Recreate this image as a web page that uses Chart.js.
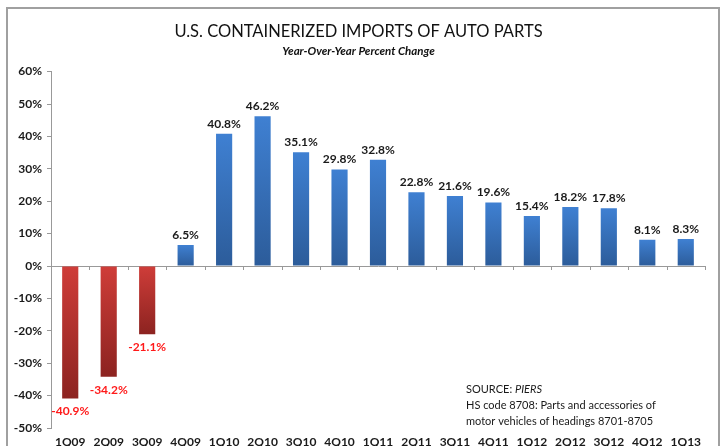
<!DOCTYPE html>
<html>
<head>
<meta charset="utf-8">
<script src="https://cdn.jsdelivr.net/npm/chart.js@4.4.1/dist/chart.umd.min.js"></script>
<style>
    html, body { margin: 0; padding: 0; background: #fff; }
    #wrap { width: 723px; height: 446px; position: relative; }
</style>
</head>
<body>
<div id="wrap"><canvas id="chart" width="723" height="446"></canvas></div>
<script>
'use strict';

const QUARTERS = ['1Q09', '2Q09', '3Q09', '4Q09', '1Q10', '2Q10', '3Q10', '4Q10', '1Q11', '2Q11', '3Q11', '4Q11', '1Q12', '2Q12', '3Q12', '4Q12', '1Q13'];
const YOY_CHANGE = [-40.9, -34.2, -21.1, 6.5, 40.8, 46.2, 35.1, 29.8, 32.8, 22.8, 21.6, 19.6, 15.4, 18.2, 17.8, 8.1, 8.3];
const Y_MIN = -50;
const Y_MAX = 60;
const Y_STEP = 10;
const SOURCE_LINES = ['HS code 8708: Parts and accessories of', 'motor vehicles of headings 8701-8705'];

const FONT = 'Lato, "Open Sans", sans-serif';
const BLUE = ['#3f80d2', '#2c5c9a'];
const RED = ['#cf3d39', '#8c2320'];

// vertical gradient per bar, light at the zero line end for negatives, light at the top for positives
function barFill(context) {
    let chart = context.chart;
    let y = chart.scales.y;
    if (!y || !chart.chartArea) {
        return BLUE[0];
    }
    let value = context.raw;
    let zero = y.getPixelForValue(0);
    let end = y.getPixelForValue(value);
    let colors = value < 0 ? RED : BLUE;
    let top = Math.min(zero, end);
    let bottom = Math.max(zero, end);
    let grad = chart.ctx.createLinearGradient(0, top, 0, bottom);
    grad.addColorStop(0, colors[0]);
    grad.addColorStop(1, colors[1]);
    return grad;
}

// frame, zero line ticks, value labels and source note
const extras = {
    id: 'extras',
    beforeDraw(chart) {
        let ctx = chart.ctx;
        ctx.save();
        ctx.strokeStyle = '#a0a0a0';
        ctx.lineWidth = 2;
        ctx.strokeRect(7, 8, 712, 460);
        ctx.restore();
    },
    afterDatasetsDraw(chart) {
        let ctx = chart.ctx;
        let x = chart.scales.x;
        let y = chart.scales.y;
        let zero = y.getPixelForValue(0);
        ctx.save();
        ctx.strokeStyle = '#999';
        ctx.lineWidth = 1;
        for (let i = 0; i <= QUARTERS.length; i++) {
            let px = Math.round(x.getPixelForValue(i - 0.5)) + 0.5;
            ctx.beginPath();
            ctx.moveTo(px, zero);
            ctx.lineTo(px, zero + 4);
            ctx.stroke();
        }

        ctx.font = 'bold 12px ' + FONT;
        ctx.textAlign = 'center';
        let meta = chart.getDatasetMeta(0);
        meta.data.forEach((bar, i) => {
            let value = YOY_CHANGE[i];
            let label = value.toFixed(1) + '%';
            if (value < 0) {
                ctx.fillStyle = '#ff1a1a';
                ctx.textBaseline = 'top';
                ctx.fillText(label, bar.x, bar.y + 7);
            } else {
                ctx.fillStyle = '#1a1a1a';
                ctx.textBaseline = 'bottom';
                ctx.fillText(label, bar.x, bar.y - 4);
            }
        });

        ctx.fillStyle = '#1a1a1a';
        ctx.textAlign = 'left';
        ctx.textBaseline = 'middle';
        ctx.font = '11px ' + FONT;
        let sx = 466;
        ctx.fillText('SOURCE: ', sx, 389);
        let w = ctx.measureText('SOURCE: ').width;
        ctx.font = 'italic 11px ' + FONT;
        ctx.fillText('PIERS', sx + w, 389);
        ctx.font = '11px ' + FONT;
        SOURCE_LINES.forEach((line, i) => ctx.fillText(line, sx, 405 + i * 16));
        ctx.restore();
    }
};

new Chart(document.getElementById('chart'), {
    type: 'bar',
    data: {
        labels: QUARTERS,
        datasets: [{
            data: YOY_CHANGE,
            backgroundColor: barFill,
            borderWidth: 0,
            categoryPercentage: 1,
            barPercentage: 0.42
        }]
    },
    options: {
        responsive: false,
        animation: false,
        layout: { padding: { left: 12, right: 18, top: 0, bottom: 0 } },
        plugins: {
            legend: { display: false },
            tooltip: { enabled: false },
            title: {
                display: true,
                text: 'U.S. CONTAINERIZED IMPORTS OF AUTO PARTS',
                color: '#111',
                font: { family: FONT, size: 16.5, weight: 'normal' },
                padding: { top: 22, bottom: 3 }
            },
            subtitle: {
                display: true,
                text: 'Year-Over-Year Percent Change',
                color: '#111',
                font: { family: FONT, size: 11.5, style: 'italic', weight: 'bold' },
                padding: { top: 0, bottom: 13 }
            }
        },
        scales: {
            x: {
                grid: { display: false, drawTicks: false },
                border: { display: false },
                ticks: { color: '#1a1a1a', padding: 7, font: { family: FONT, size: 12, weight: 'bold' }, maxRotation: 0 },
                afterFit: s => { s.height = 18; }
            },
            y: {
                min: Y_MIN,
                max: Y_MAX,
                border: { display: true, color: '#999' },
                grid: {
                    color: c => (c.tick && c.tick.value === 0 ? '#999' : 'rgba(0,0,0,0)'),
                    tickColor: '#999',
                    tickLength: 4
                },
                ticks: {
                    stepSize: Y_STEP,
                    color: '#1a1a1a',
                    padding: 5,
                    font: { family: FONT, size: 12, weight: 'bold' },
                    callback: v => v + '%'
                },
                afterFit: s => { s.width = 39; }
            }
        }
    },
    plugins: [extras]
});
</script>
</body>
</html>
